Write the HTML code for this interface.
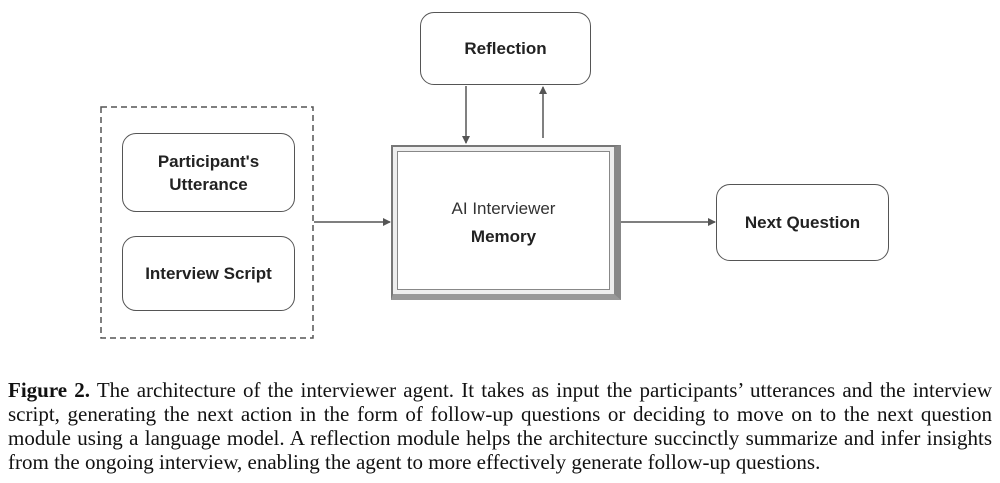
<!DOCTYPE html>
<html><head><style>
body{margin:0;width:1000px;height:483px;background:#fff;position:relative;overflow:hidden;font-family:"Liberation Sans",sans-serif}
.b{position:absolute;border:1.5px solid #555;border-radius:14px;background:#fff;box-sizing:border-box;display:flex;align-items:center;justify-content:center;text-align:center;font-weight:bold;font-size:17px;color:#222;line-height:23px}
.cap{position:absolute;left:8px;width:984px;top:378px;font-family:"Liberation Serif",serif;font-size:21px;line-height:24px;color:#111}
.cap div{text-align:justify;text-align-last:justify;white-space:nowrap}
.cap div.l{text-align-last:left}
</style></head><body>
<svg width="1000" height="483" style="position:absolute;left:0;top:0">
<rect x="101" y="107" width="212" height="231" fill="none" stroke="#555" stroke-width="1.5" stroke-dasharray="6,4"/>
</svg>
<div class="b" style="left:122px;top:133px;width:173px;height:79px">Participant's<br>Utterance</div>
<div class="b" style="left:122px;top:236px;width:173px;height:75px">Interview Script</div>
<div class="b" style="left:420px;top:12px;width:171px;height:73px">Reflection</div>
<div class="b" style="left:716px;top:184px;width:173px;height:77px">Next Question</div>
<div style="position:absolute;left:391px;top:145px;width:230px;height:155px;box-sizing:border-box;border:2px solid #777;border-right:7px solid #888;border-bottom:6px solid #999;box-shadow:inset 0 0 0 4px #eee,inset 0 0 0 5px #888;background:#fff;text-align:center;font-size:17px;color:#333">
<div style="margin-top:52px">AI Interviewer</div><div style="margin-top:8px;font-weight:bold;color:#222">Memory</div></div>
<svg width="1000" height="483" style="position:absolute;left:0;top:0">
<defs><marker id="a" markerWidth="8" markerHeight="8" refX="7" refY="4" orient="auto" markerUnits="userSpaceOnUse"><path d="M0,0L8,4L0,8z" fill="#555"/></marker></defs>
<g stroke="#555" stroke-width="1.5" marker-end="url(#a)">
<line x1="314" y1="222" x2="390" y2="222"/>
<line x1="621" y1="222" x2="715" y2="222"/>
<line x1="466" y1="86" x2="466" y2="143"/>
<line x1="543" y1="138" x2="543" y2="87"/>
</g></svg>
<div class="cap">
<div><b>Figure 2.</b> The architecture of the interviewer agent. It takes as input the participants’ utterances and the interview</div>
<div>script, generating the next action in the form of follow-up questions or deciding to move on to the next question</div>
<div>module using a language model. A reflection module helps the architecture succinctly summarize and infer insights</div>
<div class="l">from the ongoing interview, enabling the agent to more effectively generate follow-up questions.</div>
</div>
</body></html>
